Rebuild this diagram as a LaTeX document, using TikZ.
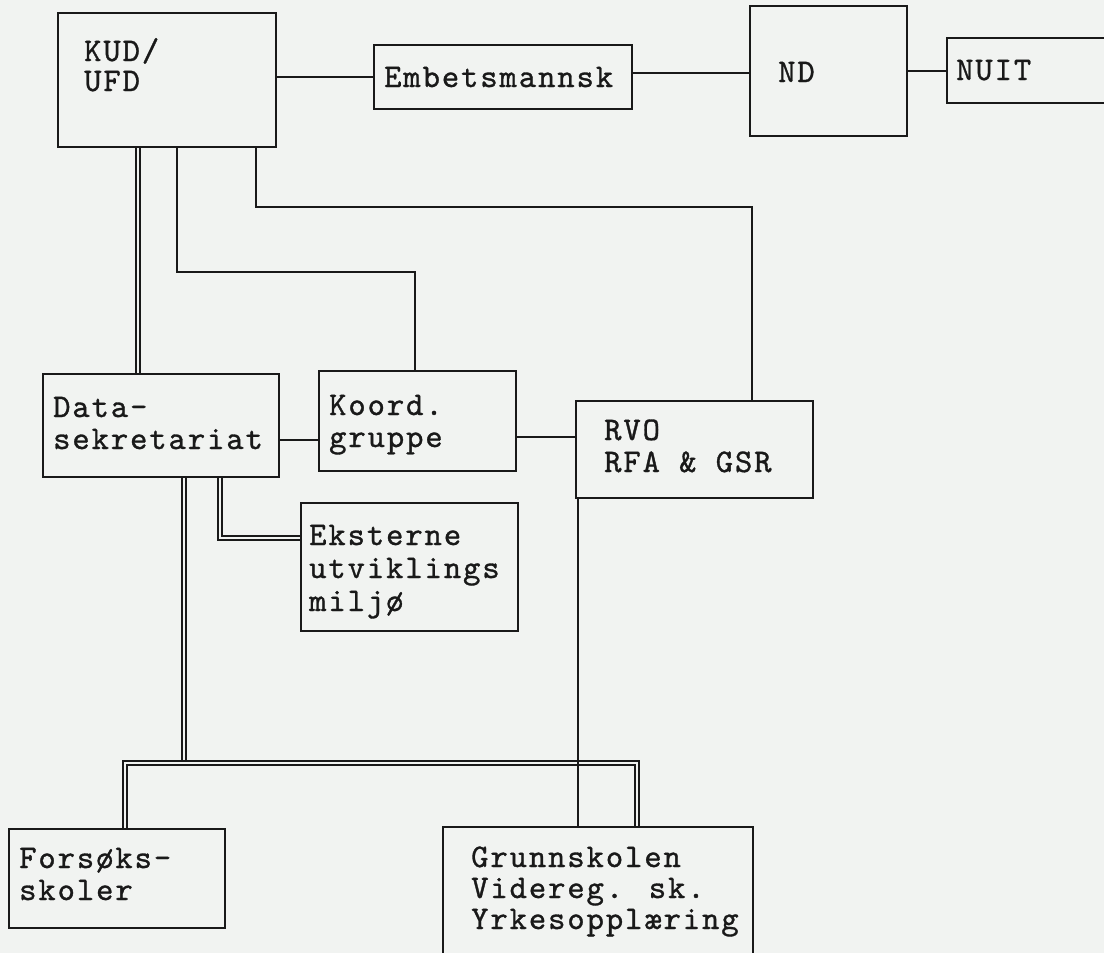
\documentclass[tikz,border=0pt]{standalone}
\usepackage{fontspec}
\newfontfamily\cour{lmmono10-regular}[Extension=.otf, LetterSpace=5.8, FakeBold=1]
\definecolor{paper}{RGB}{241,243,241}
\definecolor{ink}{RGB}{25,25,25}
\begin{document}
\begin{tikzpicture}[x=1pt,y=-1pt,
  box/.style={draw=ink, line width=2.2pt, inner sep=0pt, anchor=north west},
  txt/.style={anchor=base west, inner sep=0pt, text=ink,
    font=\cour\fontsize{33pt}{33pt}\selectfont},
  conn/.style={draw=ink, line width=2.2pt},
  dbl/.style={draw=ink, line width=1.6pt, double=paper, double distance=2.4pt}]
\fill[paper] (0,0) rectangle (1104,953);
\useasboundingbox (0,0) rectangle (1104,953);
% boxes
\node[box, minimum width=218pt, minimum height=134pt] (kud) at (57,12) {};
\node[box, minimum width=258pt, minimum height=64pt] (emb) at (373,44) {};
\node[box, minimum width=157pt, minimum height=130pt] (nd) at (749,5) {};
\node[box, minimum width=170pt, minimum height=65pt] (nuit) at (946,37) {};
\node[box, minimum width=236pt, minimum height=103pt] (data) at (42,373) {};
\node[box, minimum width=197pt, minimum height=100pt] (koord) at (318,370) {};
\node[box, minimum width=237pt, minimum height=97pt] (rvo) at (575,400) {};
\node[box, minimum width=217pt, minimum height=128pt] (eks) at (300,502) {};
\node[box, minimum width=216pt, minimum height=99pt] (fors) at (8,828) {};
\node[box, minimum width=310pt, minimum height=140pt] (grunn) at (442,826) {};
% texts
\node[txt] (kud1) at (84,61) {KUD/};
\node[txt] (kud2) at (84,91) {UFD};
\node[txt] (emb1) at (384,87) {Embetsmannsk};
\node[txt] (nd1) at (778,82) {ND};
\node[txt] (nuit1) at (956,80) {NUIT};
\node[txt] (data1) at (53,417) {Data-};
\node[txt] (data2) at (53,449) {sekretariat};
\node[txt] (koord1) at (329,415) {Koord.};
\node[txt] (koord2) at (329,447) {gruppe};
\node[txt] (rvo1) at (604,440) {RVO};
\node[txt] (rvo2) at (604,472) {RFA \& GSR};
\node[txt] (eks1) at (309,545) {Eksterne};
\node[txt] (eks2) at (309,578) {utviklings};
\node[txt] (eks3) at (309,611) {miljø};
\node[txt] (fors1) at (19,868) {Forsøks-};
\node[txt] (fors2) at (19,900) {skoler};
\node[txt] (grunn1) at (471,867) {Grunnskolen};
\node[txt] (grunn2) at (471,898) {Videreg. sk.};
\node[txt] (grunn3) at (471,929) {Yrkesopplæring};
% connectors
\draw[conn] (kud.east |- emb.west) -- (emb.west);
\draw[conn] (emb.east |- 0,73) -- (nd.west |- 0,73);
\draw[conn] (nd.east |- nuit.west) -- (nuit.west);
\draw[dbl] (kud.south -| 138,0) -- (data.north -| 138,0);
\draw[conn] (kud.south -| 177,0) |- (415,272) -- (koord.north -| 415,0);
\draw[conn] (kud.south -| 256,0) |- (752,207) -- (rvo.north -| 752,0);
\draw[conn] (data.east |- 0,440) -- (koord.west |- 0,440);
\draw[conn] (koord.east |- 0,437) -- (rvo.west |- 0,437);
\draw[dbl] (data.south -| 220,0) |- (eks.west |- 0,538);
\draw[dbl] (data.south -| 184,0) -- (184,761);
\draw[dbl] (fors.north -| 125,0) |- (637,763) -- (grunn.north -| 637,0);
\draw[conn] (rvo.south -| 578,0) -- (grunn.north -| 578,0);
\end{tikzpicture}
\end{document}
